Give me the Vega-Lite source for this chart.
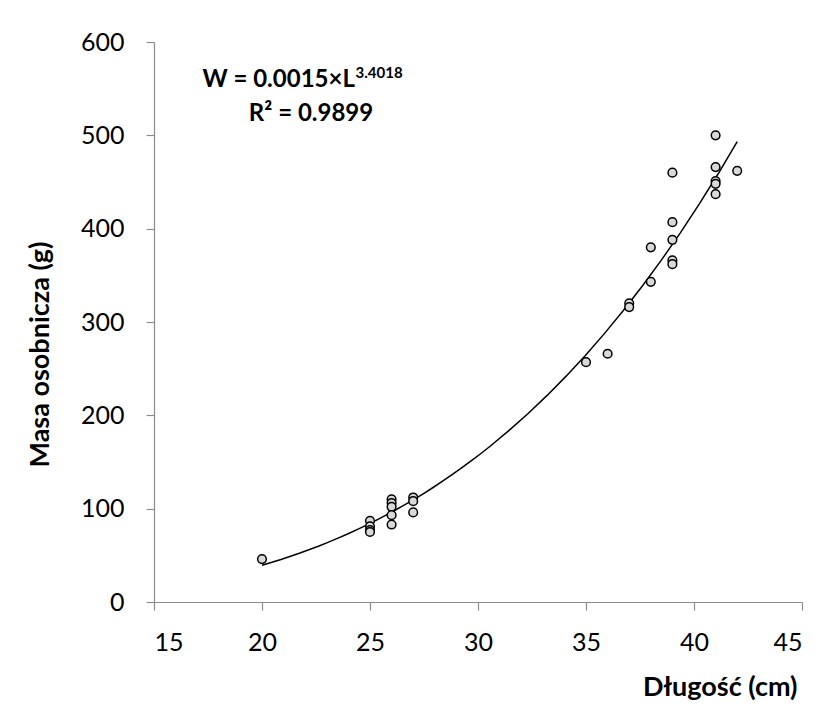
{
  "$schema": "https://vega.github.io/schema/vega-lite/v6.json",
  "autosize": {"type": "none"},
  "padding": {"left": 154, "top": 42, "right": 27, "bottom": 120},
  "width": 648,
  "height": 560,
  "background": "white",
  "config": {
    "view": {"stroke": null},
    "font": "Lato",
    "axis": {
      "grid": false,
      "domainColor": "#8c8c8c",
      "tickColor": "#8c8c8c",
      "domainWidth": 1.2,
      "tickWidth": 1.2,
      "tickSize": 8,
      "labelFont": "Lato",
      "labelFontSize": 25,
      "labelColor": "#000000",
      "titleFont": "Lato",
      "titleFontSize": 27,
      "titleFontWeight": "bold",
      "titleColor": "#000000"
    }
  },
  "layer": [
    {
      "data": {"name": "fish"},
      "transform": [
        {"regression": "W", "on": "L", "method": "pow", "extent": [20, 42]}
      ],
      "mark": {"type": "line", "color": "#000000", "strokeWidth": 1.5},
      "encoding": {
        "x": {"field": "L", "type": "quantitative"},
        "y": {"field": "W", "type": "quantitative"}
      }
    },
    {
      "data": {"name": "fish"},
      "mark": {
        "type": "point", "shape": "circle", "filled": true,
        "fill": "#d9d9d9", "stroke": "#000000", "strokeWidth": 1.5,
        "size": 75, "opacity": 1, "fillOpacity": 1
      },
      "encoding": {
        "x": {
          "field": "L", "type": "quantitative",
          "scale": {"domain": [15, 45], "nice": false, "zero": false},
          "axis": {
            "values": [15, 20, 25, 30, 35, 40, 45],
            "labelPadding": 20,
            "title": "Długość (cm)",
            "titleAnchor": "end",
            "titleAlign": "right",
            "titleX": 643,
            "titleY": 85,
            "titleBaseline": "middle"
          }
        },
        "y": {
          "field": "W", "type": "quantitative",
          "scale": {"domain": [0, 600], "nice": false},
          "axis": {
            "values": [0, 100, 200, 300, 400, 500, 600],
            "labelPadding": 22,
            "title": "Masa osobnicza (g)",
            "titleX": -114,
            "titleY": 312,
            "titleAngle": -90,
            "titleAlign": "center",
            "titleBaseline": "middle"
          }
        }
      }
    },
    {
      "data": {"values": [{"label": "W = 0.0015×L"}]},
      "mark": {"type": "text", "align": "right", "baseline": "middle", "font": "Lato", "fontWeight": "bold", "fontSize": 24, "fill": "#000000"},
      "encoding": {
        "x": {"datum": 24.3},
        "y": {"datum": 559.5},
        "text": {"field": "label"}
      }
    },
    {
      "data": {"values": [{"label": "3.4018"}]},
      "mark": {"type": "text", "align": "left", "baseline": "middle", "font": "Lato", "fontWeight": "bold", "fontSize": 15, "fill": "#000000"},
      "encoding": {
        "x": {"datum": 24.33},
        "y": {"datum": 566.5},
        "text": {"field": "label"}
      }
    },
    {
      "data": {"values": [{"label": "R² = 0.9899"}]},
      "mark": {"type": "text", "align": "center", "baseline": "middle", "font": "Lato", "fontWeight": "bold", "fontSize": 24, "fill": "#000000"},
      "encoding": {
        "x": {"datum": 22.27},
        "y": {"datum": 522.5},
        "text": {"field": "label"}
      }
    }
  ],
  "datasets": {
    "fish": [
      {"L": 20, "W": 46},
      {"L": 25, "W": 87},
      {"L": 25, "W": 81},
      {"L": 25, "W": 77},
      {"L": 25, "W": 75},
      {"L": 26, "W": 110},
      {"L": 26, "W": 106},
      {"L": 26, "W": 102},
      {"L": 26, "W": 93},
      {"L": 26, "W": 83},
      {"L": 27, "W": 112},
      {"L": 27, "W": 108},
      {"L": 27, "W": 96},
      {"L": 35, "W": 257},
      {"L": 36, "W": 266},
      {"L": 37, "W": 320},
      {"L": 37, "W": 316},
      {"L": 38, "W": 343},
      {"L": 38, "W": 380},
      {"L": 39, "W": 460},
      {"L": 39, "W": 407},
      {"L": 39, "W": 388},
      {"L": 39, "W": 366},
      {"L": 39, "W": 362},
      {"L": 41, "W": 500},
      {"L": 41, "W": 466},
      {"L": 41, "W": 451},
      {"L": 41, "W": 448},
      {"L": 41, "W": 437},
      {"L": 42, "W": 462}
    ]
  }
}
